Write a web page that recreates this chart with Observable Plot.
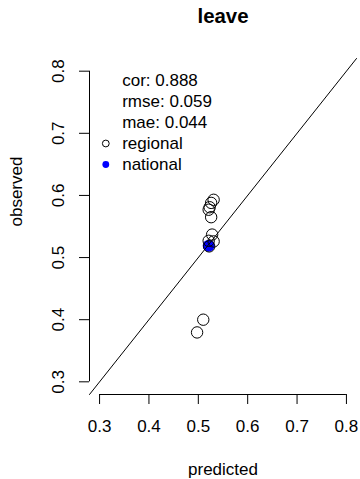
<!DOCTYPE html>
<html>
<head>
<meta charset="utf-8">
<script src="https://cdn.jsdelivr.net/npm/d3@7"></script>
<script src="https://cdn.jsdelivr.net/npm/@observablehq/plot@0.6"></script>
<style>
  html, body { margin: 0; padding: 0; background: #fff; }
  svg { display: block; }
</style>
</head>
<body>
<div id="chart"></div>
<script>
// Regional predictions vs observed (leave share)
const regions = ["West Midlands", "East Midlands", "North East", "Yorkshire and The Humber", "East", "North West", "South West", "Wales", "South East", "London", "Scotland"];
const regionalPredicted = [0.531, 0.526, 0.523, 0.521, 0.526, 0.528, 0.521, 0.531, 0.522, 0.510, 0.4975];
const regionalObserved  = [0.593, 0.588, 0.581, 0.577, 0.565, 0.537, 0.527, 0.526, 0.518, 0.400, 0.3795];
const nationalPredicted = [0.521];
const nationalObserved  = [0.519];
const xTicks = [0.3, 0.4, 0.5, 0.6, 0.7, 0.8];
const yTicks = [0.3, 0.4, 0.5, 0.6, 0.7, 0.8];
const axisLimits = [0.2796, 0.8204];
const legendLines = ["cor: 0.888", "rmse: 0.059", "mae: 0.044", "regional", "national"];
const legendSymbols = [
  {label: "regional", fill: "none", stroke: "black"},
  {label: "national", fill: "blue", stroke: "none"}
];
const title = "leave";
const xLabel = "predicted";
const yLabel = "observed";

const regional = regions.map((r, i) => ({region: r, x: regionalPredicted[i], y: regionalObserved[i]}));
const national = nationalPredicted.map((p, i) => ({x: p, y: nationalObserved[i]}));
const diagonal = axisLimits.map(v => ({x: v, y: v}));
const fmt = d3.format(".1f");
const font = "Liberation Sans, Arial, Helvetica, sans-serif";

const lineH = 21;
const legendTop = 22;

const legendTextMarks = legendLines.map((t, i) =>
  Plot.text([t], {text: d => d, frameAnchor: "top-left", dx: 32.7, dy: legendTop + i * lineH, textAnchor: "start", lineAnchor: "middle", fontSize: 17, fill: "black"})
);
const legendSymbolMarks = legendSymbols.map((s, j) =>
  Plot.dot([s], {frameAnchor: "top-left", dx: 16.3, dy: legendTop + (legendLines.indexOf(s.label)) * lineH, r: 3.4, fill: s.fill, stroke: s.stroke, strokeWidth: 1})
);

const chart = Plot.plot({
  width: 360,
  height: 479,
  marginLeft: 89,
  marginRight: 4,
  marginTop: 58,
  marginBottom: 85,
  style: {fontFamily: font, fontSize: "17px", color: "black", background: "white"},
  x: {domain: axisLimits, axis: null},
  y: {domain: axisLimits, axis: null},
  marks: [
    // x axis
    Plot.ruleY([axisLimits[0]], {x1: xTicks[0], x2: xTicks[xTicks.length - 1], stroke: "black"}),
    Plot.axisX({ticks: xTicks, tickSize: 10, tickPadding: 15, tickFormat: fmt, label: null, fontSize: 17, stroke: "black"}),
    // y axis
    Plot.ruleX([axisLimits[0]], {y1: yTicks[0], y2: yTicks[yTicks.length - 1], stroke: "black"}),
    Plot.axisY({ticks: yTicks, tickSize: 10, tickFormat: () => "", label: null, stroke: "black"}),
    Plot.text(yTicks, {y: d => d, text: d => fmt(d), frameAnchor: "left", dx: -31, rotate: -90, textAnchor: "middle", lineAnchor: "middle", fontSize: 17, fill: "black"}),
    // points
    Plot.dot(national, {x: "x", y: "y", r: 6, fill: "blue", stroke: "none"}),
    Plot.dot(regional, {x: "x", y: "y", r: 5.7, fill: "none", stroke: "black", strokeWidth: 1}),
    // y = x line
    Plot.line(diagonal, {x: "x", y: "y", stroke: "black", strokeWidth: 1}),
    // legend
    ...legendTextMarks,
    ...legendSymbolMarks,
    // titles
    Plot.text([title], {frameAnchor: "top", dy: -42.3, fontWeight: "bold", fontSize: 20.4, fill: "black", lineAnchor: "middle"}),
    Plot.text([xLabel], {frameAnchor: "bottom", dy: 75, fontSize: 17, fill: "black", lineAnchor: "middle"}),
    Plot.text([yLabel], {frameAnchor: "left", dx: -73.3, rotate: -90, fontSize: 17, fill: "black", lineAnchor: "middle"})
  ]
});
document.getElementById("chart").appendChild(chart);
</script>
</body>
</html>
